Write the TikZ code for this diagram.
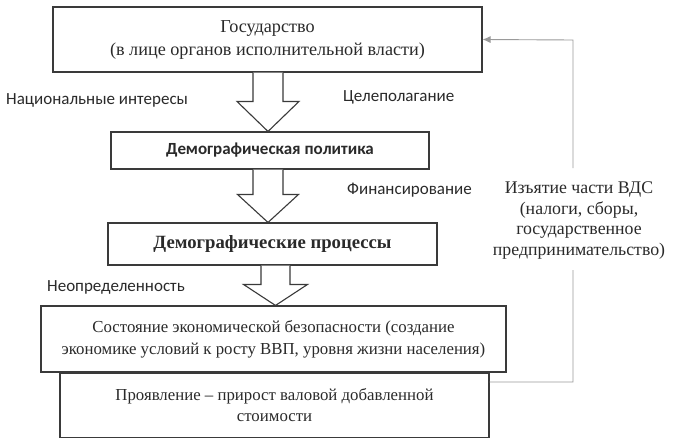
\documentclass[tikz,border=0pt]{standalone}
\usepackage{fontspec}
\setmainfont{Liberation Serif}
\newfontfamily\lab{Carlito}
\usetikzlibrary{calc,arrows.meta}
\definecolor{boxc}{HTML}{3A3A3A}
\definecolor{fbc}{HTML}{9A9A9A}
\definecolor{txt}{HTML}{2A2A2A}
\tikzset{
  x=1pt, y=-1pt,
  box/.style={draw=boxc, line width=1.1pt, fill=white, inner sep=0pt, align=center, text=txt},
  barr/.style={draw=boxc, line width=1.1pt, fill=white, line join=miter},
  lbl/.style={font=\lab\fontsize{17}{20}\selectfont, text=txt, inner sep=0pt, anchor=west},
  fb/.style={draw=fbc, line width=0.9pt},
}
\newcommand\blockarr[5]{% start, tip, shaft half, head half, shoulder
  \draw[barr] ($(#1)+(-#3,0)$) -- ($(#2)+(-#3,-#5)$) -- ($(#2)+(-#4,-#5)$) -- (#2)
     -- ($(#2)+(#4,-#5)$) -- ($(#2)+(#3,-#5)$) -- ($(#1)+(#3,0)$);}
\begin{document}
\begin{tikzpicture}
\useasboundingbox (0,0) rectangle (674,447);
\fill[white] (0,0) rectangle (674,447);

\node[box, minimum width=429pt, minimum height=65pt, font=\fontsize{18.2}{23}\selectfont] (top) at (267.5,39.5)
  {Государство\\(в лице органов исполнительной власти)};
\node[box, minimum width=318pt, minimum height=37pt, font=\lab\bfseries\fontsize{17}{20}\selectfont] (b2) at (270,150.5)
  {Демографическая политика};
\node[box, minimum width=329pt, minimum height=42pt, font=\bfseries\fontsize{18.7}{22}\selectfont] (b3) at (272.5,244)
  {Демографические процессы};
\node[box, minimum width=465pt, minimum height=66pt, font=\fontsize{16.8}{22}\selectfont] (b4) at (273.5,339)
  {Состояние экономической безопасности (создание\\экономике условий к росту ВВП, уровня жизни населения)};
\node[box, minimum width=429pt, minimum height=64pt, font=\fontsize{16.8}{21}\selectfont] (b5) at (274.5,405.5)
  {Проявление -- прирост валовой добавленной\\стоимости};

% block arrows
\coordinate (a1) at ($(top.south)+(0.5,0)$);
\coordinate (t1) at (a1 |- b2.north);
\blockarr{a1}{t1}{15}{31}{30}
\coordinate (a2) at ($(b2.south)+(-2,0)$);
\coordinate (t2) at (a2 |- b3.north);
\blockarr{a2}{t2}{15}{30.5}{28}
\coordinate (a3) at ($(b3.south)+(3,0)$);
\coordinate (t3) at (a3 |- b4.north);
\blockarr{a3}{t3}{14.5}{32}{21}

% labels
\node[lbl] (l1) at (6,100) {Национальные интересы};
\node[lbl] (l2) at (343,97) {Целеполагание};
\node[lbl] (l3) at (347,190) {Финансирование};
\node[lbl] (l4) at (47,287) {Неопределенность};

% feedback
\node[font=\fontsize{17.8}{20.5}\selectfont, text=txt, align=center, inner sep=0pt] (fbl) at (579,220.5)
  {Изъятие части ВДС\\(налоги, сборы,\\государственное\\предпринимательство)};
\coordinate (c1) at ($(b5.north east)+(0,9)$);
\coordinate (c2) at (573,382);
\coordinate (c3) at (573,40);
\draw[fb] (c1) -- (c2) -- (c2 |- 0,270);
\draw[fb, -{Latex[length=8pt,width=7pt]}] (c3 |- 0,168) -- (c3) -- (top.east);
\end{tikzpicture}
\end{document}
